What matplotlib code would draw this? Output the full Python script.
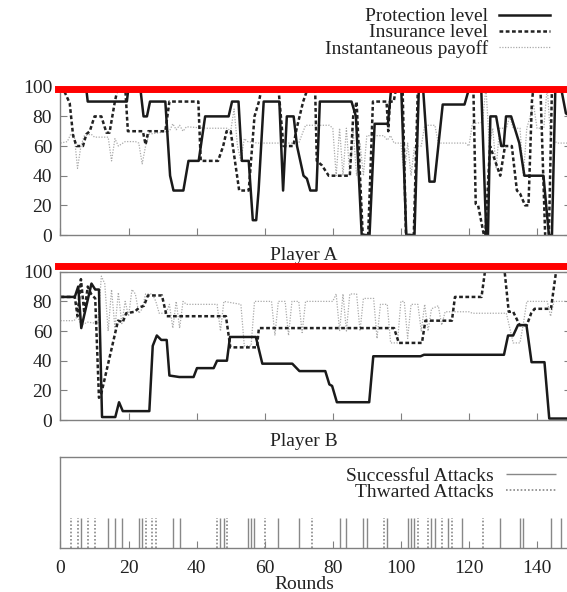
import matplotlib
matplotlib.use("Agg")
import matplotlib.pyplot as plt

plt.rcParams['font.family'] = ['Liberation Serif', 'DejaVu Serif']

# Player A (breakpoints: round, value)
a_prot_x = [0, 7.5, 8, 19.5, 20, 23.4, 24.4, 25.4, 26.3, 30.8, 32.2, 33.2, 36.1, 37.6, 40.6, 42.5, 49.4,
            50.4, 52.3, 53.3, 55.3, 56.5, 57.5, 58.2, 59.7, 64.3, 65.4, 66.5, 68.5, 69.5, 71.4, 72.4,
            73.4, 75.2, 76.2, 85.5, 86.8, 88.5, 90.8, 92.3, 96.2, 97.2, 100.1, 101.6, 104.0, 105.3,
            106.5, 108.4, 109.9, 112.3, 118.7, 120.2, 123.6, 125.1, 125.6, 126.3, 128.0, 129.5, 130.2,
            130.9, 132.4, 134.8, 136.3, 141.9, 143.5, 144.4, 145.4, 147, 148.5, 150]
a_prot_y = [100, 100, 90, 90, 100, 100, 80, 80, 90, 90, 40, 30, 30, 50, 50, 80, 80,
            90, 90, 50, 50, 10, 10, 30, 90, 90, 30, 80, 80, 60, 40, 38,
            30, 30, 90, 90, 80, 0, 0, 75, 75, 100, 100, 0, 0, 100,
            100, 36, 36, 88, 88, 100, 100, 0, 0, 80, 80, 60, 60,
            80, 80, 62, 40, 40, 0, 0, 100, 100, 82, 80]

a_ins_x = [0, 1.3, 2.7, 3.7, 4.7, 6.6, 7.6, 8.6, 10, 12, 13.5, 14.4, 15.9, 16.9, 19, 19.8, 24.2, 25,
           25.8, 30.8, 32, 40.5, 41.2, 46.3, 47.8, 48.8, 50, 52.5, 55.3, 57, 58.3, 59.2, 64, 65.5,
           68.4, 69.4, 71.3, 72.8, 74.8, 75.3, 76.8, 78.8, 85, 86, 87, 88.8, 90.4, 91.8, 95.8, 96.3,
           96.8, 97.9, 98.7, 100.5, 101.5, 103.8, 105, 121.3, 122, 122.7, 124.4, 124.8, 126.2,
           127.7, 129.2, 130.6, 132.6, 134.1, 135, 136.5, 137.5, 138.5, 139, 141, 142.4, 143.5,
           144.4, 150]
a_ins_y = [100, 96, 89, 67, 60, 60, 68, 70, 80, 80, 69, 69, 89, 100, 100, 70, 70, 61,
           70, 70, 90, 90, 50, 50, 60, 70, 70, 30, 30, 80, 90, 100, 100, 60,
           60, 72, 90, 100, 100, 50, 47, 40, 40, 80, 90, 0, 0, 90, 90, 70,
           90, 90, 100, 100, 0, 0, 100, 100, 21, 20, 0, 0, 60,
           50, 40, 60, 60, 30, 28, 20, 20, 90, 100, 100, 0, 0,
           100, 100]

a_pay_x = [0, 2, 3, 4, 5, 6, 7, 9, 10, 14, 15, 16, 17, 19, 22, 23, 24, 25, 26, 32, 33, 34, 35, 36, 37,
           43, 49, 50, 51, 52, 53, 54, 55, 58, 64, 70, 72, 79, 80, 81, 82, 83, 84, 85, 86, 87, 88,
           89, 90, 95, 96, 97, 98, 100, 101, 102, 103, 104, 106, 107, 110, 111, 119, 120, 121, 124,
           125, 126, 127, 128, 129, 131, 132, 133, 135, 136, 137, 139, 140, 142, 143, 144, 146, 150]
a_pay_y = [62, 63, 68, 68, 45, 60, 67, 68, 66, 66, 50, 65, 60, 63, 63, 62, 48, 60, 68, 70, 75, 71, 74, 70, 73,
           72, 72, 70, 85, 60, 50, 65, 63, 62, 62, 62, 74, 74, 72, 40, 72, 40, 72, 40, 70, 40, 62,
           40, 67, 67, 64, 67, 62, 62, 40, 62, 40, 60, 60, 74, 74, 62, 62, 60, 75, 76,
           100, 60, 72, 45, 72, 72, 80, 72, 72, 40, 72, 88, 72, 72, 100, 65, 62, 62]

# Player B
b_prot_x = [0, 4.2, 5.2, 6.1, 9.1, 10.2, 11.3, 12.2, 16.1, 17.2, 18.3, 26.1, 27.1, 28.3, 29.6, 31.2, 32,
            34.9, 39.1, 40.1, 45, 46, 48.9, 49.8, 57.4, 59.3, 68.1, 70.2, 77.8, 79, 79.8, 81.2, 90.7,
            91.9, 105.8, 106.8, 130.3, 131.5, 133, 134.4, 136.9, 138.4, 142.2, 143.6, 150]
b_prot_y = [83, 83, 90, 62, 92, 88, 88, 2, 2, 12, 6, 6, 50, 57, 54, 54, 30,
            29, 29, 35, 35, 40, 40, 56, 56, 38, 38, 33, 33, 24, 23, 12, 12,
            43, 43, 44, 44, 57, 57, 64, 64, 39, 39, 1, 1]

b_ins_x = [0, 4.2, 5, 6, 7, 8, 9, 10.2, 11.3, 12, 16.9, 18.3, 19.3, 21.8, 23.2, 24.5, 25.7, 29.8, 31.2,
           48.6, 49.9, 57.7, 58.3, 98, 99.4, 106.2, 107.2, 115, 115.9, 123.7, 124.7, 130.5, 131.7,
           133, 134.9, 137, 138.3, 139.3, 144.1, 145.6, 150]
b_ins_y = [83, 83, 70, 95, 72, 90, 85, 82, 15, 18, 67, 66, 72, 73, 76, 77, 84, 84, 70,
           70, 49, 49, 62, 62, 52, 52, 67, 67, 83, 83, 100, 100, 73,
           73, 64, 64, 72, 75, 75, 100, 100]

b_pay_x = [0, 4, 5, 6, 8, 11, 12, 13, 14, 15, 16, 17, 18, 19, 20, 21, 22, 23, 24, 25, 27, 28, 29, 31, 32,
           33, 34, 35, 36, 37, 46, 47, 48, 53, 54, 56, 57, 62, 63, 64, 66, 67, 68, 70, 71, 72, 80, 81,
           82, 83, 84, 85, 87, 88, 89, 92, 93, 94, 96, 97, 99, 100, 101, 102, 103, 105, 106, 107, 108,
           109, 111, 112, 113, 120, 121, 131, 133, 135, 136, 137, 143, 144, 145, 150]
b_pay_y = [67, 67, 70, 64, 66, 65, 97, 92, 60, 88, 62, 86, 65, 80, 70, 88, 85, 72, 75, 85, 85, 80, 72, 72, 78,
           62, 80, 62, 80, 78, 78, 60, 80, 78, 50, 50, 80, 80, 57, 80, 80, 57, 80, 80, 59, 80, 80, 85,
           60, 85, 60, 85, 85, 60, 82, 82, 55, 78, 78, 52, 52, 80, 80, 55, 78, 78, 60, 78, 60,
           75, 77, 64, 73, 73, 72, 72, 52, 52, 65, 80, 80, 70, 80, 80]

# attack rounds
successful = [6, 14, 16, 18, 23, 24, 33, 35, 47, 48, 55, 56, 57, 64, 70, 82, 84, 89, 90, 96, 102, 103,
              104, 109, 110, 114, 118, 129, 135, 136, 144, 147]
thwarted = [3, 5, 8, 10, 25, 27, 28, 46, 49, 60, 74, 95, 105, 108, 112, 115, 124]

spine_col = '#808080'
txt_col = '#222222'
fs = 14

fig = plt.figure(figsize=(5.67, 5.92), dpi=100)
left, width = 0.1067, 0.9004
ax_a = fig.add_axes([left, 0.6030, width, 0.2505])
ax_b = fig.add_axes([left, 0.2905, width, 0.2505])
ax_c = fig.add_axes([left, 0.0735, width, 0.1546])

dash = (0, (1.5, 1.0))
dot = (0, (1, 1.2))
for ax, px, py, ix, iy, yx, yy in [(ax_a, a_prot_x, a_prot_y, a_ins_x, a_ins_y, a_pay_x, a_pay_y),
                                   (ax_b, b_prot_x, b_prot_y, b_ins_x, b_ins_y, b_pay_x, b_pay_y)]:
    ax.plot(yx, yy, color='#aaaaaa', lw=0.9, ls=dot, label='Instantaneous payoff')
    ax.plot(ix, iy, color='#222222', lw=1.8, ls=dash, label='Insurance level')
    ax.plot(px, py, color='#1a1a1a', lw=1.8, label='Protection level')
    ax.set_ylim(0, 100)
    ax.set_yticks(range(0, 101, 20))
    ax.tick_params(axis='y', direction='in', length=5, width=0.8, color=spine_col, labelsize=fs,
                   labelcolor=txt_col, right=True, pad=6)

for ax in (ax_a, ax_b, ax_c):
    ax.set_xlim(0, 150)
    ax.set_xticks(range(0, 141, 20))
    ax.tick_params(axis='x', direction='in', length=5, width=0.8, color=spine_col, labelsize=fs,
                   labelcolor=txt_col, pad=8)
    for s in ax.spines.values():
        s.set_color(spine_col)
        s.set_linewidth(1.0)

ax_a.tick_params(axis='x', labelbottom=False)
ax_b.tick_params(axis='x', labelbottom=False)

ax_a.axhline(98.2, xmin=-0.005, xmax=1, color='#ff0000', lw=5, clip_on=False, zorder=5)
ax_b.axhline(104, xmin=-0.005, xmax=1, color='#ff0000', lw=5, clip_on=False, zorder=5)

ax_a.text(0.477, -0.135, 'Player A', transform=ax_a.transAxes, ha='center', va='center',
          fontsize=fs, color=txt_col)
ax_b.text(0.477, -0.142, 'Player B', transform=ax_b.transAxes, ha='center', va='center',
          fontsize=fs, color=txt_col)

ax_c.vlines(successful, 0, 1, colors='#888888', lw=1.0, label='Successful Attacks')
ax_c.vlines(thwarted, 0, 1, colors='#888888', lw=1.2, linestyles=[dot], label='Thwarted Attacks')
ax_c.set_ylim(0, 3)
ax_c.set_yticks([])
ax_c.text(0.477, -0.39, 'Rounds', transform=ax_c.transAxes, ha='center', va='center',
          fontsize=fs, color=txt_col)

h, l = ax_a.get_legend_handles_labels()
order = [2, 1, 0]
fig.legend([h[i] for i in order], [l[i] for i in order], loc='upper right',
           bbox_to_anchor=(0.970, 0.987), frameon=False, markerfirst=False, fontsize=fs,
           handlelength=2.6, handletextpad=0.6, labelspacing=-0.08, borderpad=0, borderaxespad=0,
           labelcolor=txt_col)

ax_c.legend(loc='upper right', bbox_to_anchor=(0.981, 0.211), bbox_transform=fig.transFigure,
            frameon=False, markerfirst=False, fontsize=fs, handlelength=2.6, handletextpad=0.6,
            labelspacing=-0.08, borderpad=0, borderaxespad=0, labelcolor=txt_col)

fig.savefig('out.png', dpi=100)
